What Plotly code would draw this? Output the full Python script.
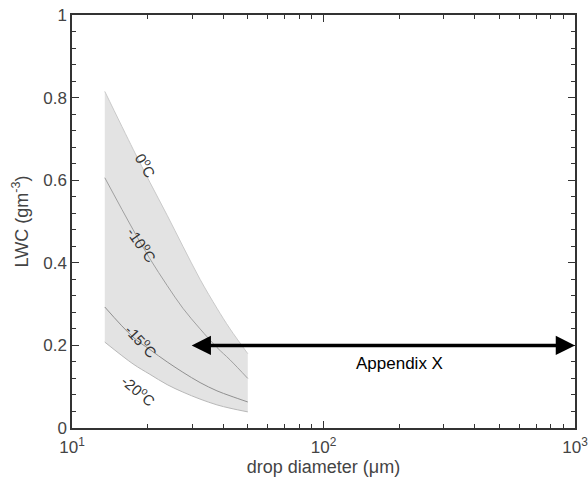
import numpy as np
import plotly.graph_objects as go

# drop diameter (um)
diam = [13.5, 17.5, 20.4, 23.9, 27.6, 32.3, 37.7, 42.5, 50.0]
# LWC (g m^-3) for each temperature
lwc_0 = [0.815, 0.675, 0.595, 0.515, 0.44, 0.36, 0.29, 0.24, 0.18]
lwc_m10 = [0.606, 0.48, 0.41, 0.345, 0.29, 0.24, 0.195, 0.165, 0.12]
lwc_m15 = [0.293, 0.22, 0.19, 0.16, 0.135, 0.11, 0.09, 0.078, 0.063]
lwc_m20 = [0.208, 0.155, 0.13, 0.105, 0.087, 0.07, 0.056, 0.048, 0.039]

# curve labels: text, x, y, angle
labels = ["0<sup>o</sup>C", "-10<sup>o</sup>C", "-15<sup>o</sup>C", "-20<sup>o</sup>C"]
label_x = [19.7, 19.1, 19.0, 18.6]
label_y = [0.638, 0.444, 0.213, 0.092]
label_ang = [60, 55, 47, 40]

# Appendix X range arrow
arrow_x = [29.5, 1000]
arrow_y = 0.2
arrow_text = "Appendix X"
arrow_text_pos = (201, 0.155)

x_ticks = [10, 100, 1000]
x_ticktext = ["10<sup>1</sup>", "10<sup>2</sup>", "10<sup>3</sup>"]
y_ticks = [0, 0.2, 0.4, 0.6, 0.8, 1]
y_ticktext = ["0", "0.2", "0.4", "0.6", "0.8", "1"]

FONT = "Liberation Sans"

fig = go.Figure()
fig.add_trace(go.Scatter(x=diam, y=lwc_m20, mode="lines", line=dict(color="#b8b8b8", width=1, shape="spline"),
                         showlegend=False, hoverinfo="skip"))
fig.add_trace(go.Scatter(x=diam, y=lwc_0, mode="lines", line=dict(color="#cacaca", width=1, shape="spline"),
                         fill="tonexty", fillcolor="#e3e3e3", showlegend=False, hoverinfo="skip"))
fig.add_trace(go.Scatter(x=diam, y=lwc_m10, mode="lines", line=dict(color="#a0a0a0", width=1, shape="spline"),
                         showlegend=False, hoverinfo="skip"))
fig.add_trace(go.Scatter(x=diam, y=lwc_m15, mode="lines", line=dict(color="#909090", width=1, shape="spline"),
                         showlegend=False, hoverinfo="skip"))

for t, lx, ly, a in zip(labels, label_x, label_y, label_ang):
    fig.add_annotation(x=np.log10(lx), y=ly, text=t, showarrow=False, textangle=a,
                       font=dict(family=FONT, size=15, color="#333333"))

fig.add_annotation(x=np.log10(arrow_x[1]), y=arrow_y, ax=np.log10(arrow_x[0]), ay=arrow_y,
                   xref="x", yref="y", axref="x", ayref="y", text="", showarrow=True,
                   arrowhead=2, startarrowhead=2, arrowside="end+start", arrowwidth=3.5,
                   arrowsize=1.1, startarrowsize=1.1, arrowcolor="black")
fig.add_annotation(x=np.log10(arrow_text_pos[0]), y=arrow_text_pos[1], text=arrow_text, showarrow=False,
                   font=dict(family=FONT, size=17, color="black"))

axis_common = dict(showline=True, linecolor="#333333", linewidth=1.5, mirror="allticks",
                   ticks="inside", ticklen=7, tickcolor="#333333", showgrid=False, zeroline=False,
                   automargin=False, ticklabeloverflow="allow",
                   tickfont=dict(family=FONT, size=17, color="#444444"))

fig.update_xaxes(type="log", range=[1, 3], tickvals=x_ticks, ticktext=x_ticktext,
                 ticklabelstandoff=3,
                 title=dict(text="drop diameter (μm)", font=dict(family=FONT, size=18, color="#444444"),
                            standoff=0),
                 minor=dict(ticks="inside", ticklen=4, tickcolor="#333333",
                            tickvals=[m * d for d in [10, 100] for m in range(2, 10)]),
                 **axis_common)
fig.update_yaxes(range=[0, 1], tickvals=y_ticks, ticktext=y_ticktext,
                 title=dict(text="LWC (gm<sup>-3</sup>)", font=dict(family=FONT, size=18, color="#444444"),
                            standoff=10),
                 minor=dict(ticks="inside", ticklen=4, tickcolor="#333333", dtick=0.04, tick0=0),
                 **axis_common)

fig.update_layout(width=588, height=485, margin=dict(l=72, r=13, t=15, b=57),
                  paper_bgcolor="white", plot_bgcolor="white")
fig.write_html("out.html", config={"displayModeBar": False},
               post_script="document.body.style.margin='0';document.body.style.overflow='hidden';")
